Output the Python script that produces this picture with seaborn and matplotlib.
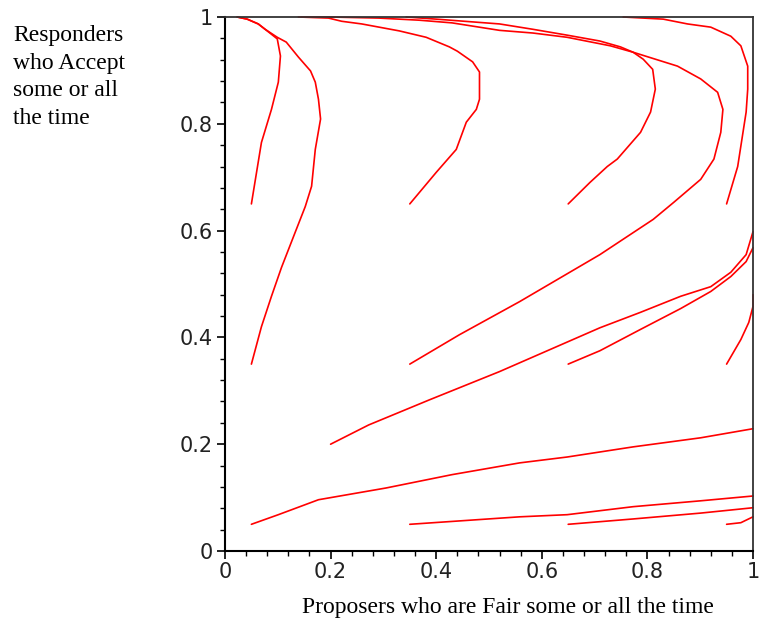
import numpy as np
import pandas as pd
import matplotlib
matplotlib.use("Agg")
import matplotlib.pyplot as plt
from matplotlib.ticker import MultipleLocator, FixedLocator
import seaborn as sns

# ---- trajectory data ----
t1_x = [0.05, 0.069, 0.088, 0.101, 0.105, 0.099, 0.076, 0.063, 0.042, 0.023]
t1_y = [0.65, 0.765, 0.827, 0.878, 0.927, 0.959, 0.977, 0.987, 0.996, 1.0]

t2_x = [0.05, 0.069, 0.088, 0.107, 0.133, 0.152, 0.164, 0.171, 0.181, 0.177, 0.171, 0.162, 0.139, 0.116, 0.099, 0.076, 0.063, 0.042, 0.023]
t2_y = [0.35, 0.420, 0.477, 0.531, 0.597, 0.645, 0.683, 0.752, 0.809, 0.846, 0.878, 0.899, 0.925, 0.953, 0.962, 0.977, 0.987, 0.996, 1.0]

t3_x = [0.35, 0.400, 0.438, 0.457, 0.476, 0.482, 0.482, 0.469, 0.440, 0.425, 0.381, 0.330, 0.259, 0.221, 0.196, 0.139]
t3_y = [0.65, 0.709, 0.752, 0.803, 0.827, 0.846, 0.897, 0.916, 0.936, 0.944, 0.962, 0.974, 0.987, 0.992, 0.998, 1.0]

t4_x = [0.65, 0.691, 0.724, 0.743, 0.787, 0.806, 0.815, 0.810, 0.792, 0.773, 0.749, 0.710, 0.648, 0.583, 0.520, 0.400, 0.343]
t4_y = [0.65, 0.690, 0.720, 0.734, 0.784, 0.822, 0.865, 0.902, 0.921, 0.934, 0.944, 0.955, 0.966, 0.977, 0.987, 0.996, 1.0]

t5_x = [0.95, 0.971, 0.987, 0.990, 0.990, 0.977, 0.958, 0.920, 0.876, 0.830, 0.754]
t5_y = [0.65, 0.720, 0.822, 0.865, 0.908, 0.946, 0.964, 0.981, 0.987, 0.996, 1.0]

t6_x = [0.35, 0.444, 0.558, 0.710, 0.811, 0.850, 0.901, 0.926, 0.939, 0.943, 0.933, 0.901, 0.857, 0.773, 0.730, 0.648, 0.583, 0.520, 0.430, 0.368, 0.291, 0.196, 0.145]
t6_y = [0.35, 0.405, 0.467, 0.555, 0.621, 0.653, 0.696, 0.734, 0.784, 0.827, 0.859, 0.884, 0.908, 0.934, 0.946, 0.962, 0.970, 0.975, 0.989, 0.994, 0.998, 1.0, 1.0]

t7_x = [0.20, 0.272, 0.387, 0.520, 0.710, 0.787, 0.863, 0.920, 0.958, 0.987, 1.0]
t7_y = [0.20, 0.236, 0.283, 0.336, 0.418, 0.447, 0.477, 0.495, 0.522, 0.555, 0.598]

t8_x = [0.65, 0.710, 0.787, 0.863, 0.920, 0.958, 0.987, 1.0]
t8_y = [0.35, 0.375, 0.415, 0.454, 0.486, 0.514, 0.542, 0.568]

t9_x = [0.95, 0.977, 0.992, 1.0, 1.0]
t9_y = [0.35, 0.396, 0.428, 0.458, 0.480]

t10_x = [0.05, 0.101, 0.177, 0.305, 0.430, 0.558, 0.648, 0.773, 0.901, 1.0]
t10_y = [0.05, 0.068, 0.096, 0.118, 0.143, 0.165, 0.176, 0.195, 0.212, 0.229]

t11_x = [0.35, 0.558, 0.648, 0.773, 0.901, 1.0]
t11_y = [0.05, 0.064, 0.068, 0.083, 0.094, 0.103]

t12_x = [0.65, 0.773, 0.901, 1.0]
t12_y = [0.05, 0.060, 0.071, 0.081]

t13_x = [0.95, 0.977, 1.0]
t13_y = [0.05, 0.053, 0.064]

traj_x = [t1_x, t2_x, t3_x, t4_x, t5_x, t6_x, t7_x, t8_x, t9_x, t10_x, t11_x, t12_x, t13_x]
traj_y = [t1_y, t2_y, t3_y, t4_y, t5_y, t6_y, t7_y, t8_y, t9_y, t10_y, t11_y, t12_y, t13_y]

tick_values = [0, 0.2, 0.4, 0.6, 0.8, 1]
tick_labels = ["0", "0.2", "0.4", "0.6", "0.8", "1"]
x_label = "Proposers who are Fair some or all the time"
y_label = "Responders\nwho Accept\nsome or all\nthe time"

rows = []
for i, (xs, ys) in enumerate(zip(traj_x, traj_y)):
    for k, (xv, yv) in enumerate(zip(xs, ys)):
        rows.append({"traj": i, "order": k, "x": xv, "y": yv})
df = pd.DataFrame(rows)

sns.set_style("ticks")
plt.rcParams["font.family"] = ["DejaVu Sans"]

fig = plt.figure(figsize=(7.59, 6.25), dpi=100)
ax = fig.add_axes([225 / 759, (625 - 551) / 625, 528 / 759, 534 / 625])

sns.lineplot(data=df, x="x", y="y", units="traj", estimator=None, sort=False,
             color="#ff0000", linewidth=1.2, ax=ax, legend=False)
for ln in ax.lines:
    ln.set_clip_on(False)

ax.set_xlim(0, 1)
ax.set_ylim(0, 1)
ax.xaxis.set_major_locator(FixedLocator(tick_values))
ax.yaxis.set_major_locator(FixedLocator(tick_values))
ax.set_xticklabels(tick_labels)
ax.set_yticklabels(tick_labels)
ax.xaxis.set_minor_locator(MultipleLocator(0.04))
ax.yaxis.set_minor_locator(MultipleLocator(0.04))
ax.tick_params(which="major", direction="out", length=6, width=1.2, color="black",
               labelsize=15, labelcolor="#222222")
ax.tick_params(which="minor", direction="out", length=3.5, width=1.0, color="black")
ax.tick_params(axis="y", which="major", pad=3)
ax.tick_params(axis="x", which="major", pad=2)

for side in ["left", "bottom"]:
    ax.spines[side].set_color("black")
    ax.spines[side].set_linewidth(1.5)
for side in ["top", "right"]:
    ax.spines[side].set_visible(True)
    ax.spines[side].set_color("#333333")
    ax.spines[side].set_linewidth(1.3)

ax.set_xlabel("")
ax.set_ylabel("")
fig.text(508 / 759, 1 - 608 / 625, x_label, ha="center", va="center",
         family=["Liberation Serif"], fontsize=17, color="black")
fig.text(13 / 759, 1 - 25 / 625, y_label, ha="left", va="top",
         family=["Liberation Serif"], fontsize=17, color="black", linespacing=1.42)

fig.savefig("out.png", dpi=100)
